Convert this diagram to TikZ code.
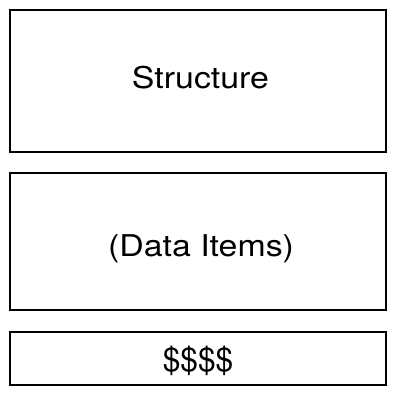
\documentclass[tikz,border=0pt]{standalone}
\usepackage{fontspec}
\setmainfont{TeX Gyre Heros}
\begin{document}
\begin{tikzpicture}[x=1pt,y=1pt,
  box/.style={draw=black,line width=2pt},
  lbl/.style={anchor=base,inner sep=0pt,font=\fontsize{30}{36}\selectfont}]
\useasboundingbox (0,0) rectangle (400,400);
\draw[box] (10,390) rectangle (386,248);
\draw[box] (10,227) rectangle (386,90);
\draw[box] (10,68) rectangle (386,15);
\node[lbl] (s) at (200.5,311) {\scalebox{1.13}[1]{Structure}};
\node[lbl] (d) at (201,143) {\scalebox{1.13}[1]{(Data Items)}};
\node[lbl,font=\fontsize{33}{38}\selectfont] (m) at (198,28.5) {\scalebox{0.96}[1]{\$\$\$\$}};
\end{tikzpicture}
\end{document}
